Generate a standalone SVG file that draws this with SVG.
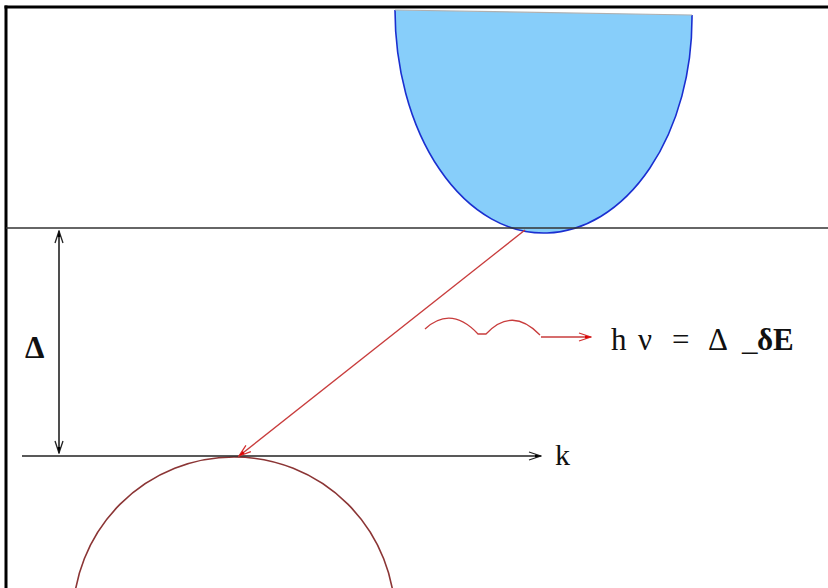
<svg xmlns="http://www.w3.org/2000/svg" width="828" height="588" viewBox="0 0 828 588">
<defs>
<style>
.frame{stroke:#000;stroke-width:3;fill:none}
.level{stroke:#333;stroke-width:1.6;fill:none}
.blk{stroke:#222;stroke-width:1.6;fill:none}
.red{stroke:#c83c3c;stroke-width:1.3;fill:none}
.lbl{font-family:"Liberation Serif","DejaVu Serif",serif;fill:#111}
</style>
<marker id="ahBlack" markerUnits="userSpaceOnUse" viewBox="0 0 14 10" refX="13" refY="5" markerWidth="14" markerHeight="10" orient="auto-start-reverse">
<path d="M1,1 L13,5 L1,9" fill="none" stroke="#222" stroke-width="1.3"/>
<path d="M7,3.5 L13,5 L7,6.5 Z" fill="#000"/>
</marker>
<marker id="ahRed" markerUnits="userSpaceOnUse" viewBox="0 0 14 10" refX="13" refY="5" markerWidth="14" markerHeight="10" orient="auto">
<path d="M1,1 L13,5 L1,9" fill="none" stroke="#d23030" stroke-width="1.3"/>
<path d="M7,3.5 L13,5 L7,6.5 Z" fill="#e00000"/>
</marker>
</defs>
<g id="frame">
<line class="frame" x1="4.5" y1="7" x2="828" y2="7"/>
<line class="frame" x1="6" y1="5.5" x2="6" y2="588"/>
</g>
<g id="conduction-band">
<path d="M395,10 L692,15 L692,18 A148.5,215 0 0 1 547,233 A148.5,223 0 0 1 395,10 Z" fill="#87cefa" stroke="none"/>
<path d="M395,10 A148.5,223 0 0 0 547,233 A148.5,215 0 0 0 692,18 L692,15" fill="none" stroke="#1a2fd0" stroke-width="1.6"/>
<line x1="395" y1="10" x2="692" y2="15" stroke="#b0b0b0" stroke-width="1.2"/>
</g>
<g id="level-top">
<line class="level" x1="6" y1="228" x2="828" y2="228"/>
</g>
<g id="valence-band">
<circle cx="234" cy="618" r="161" fill="none" stroke="#8b3535" stroke-width="1.6"/>
</g>
<g id="connectors">
<line class="blk" x1="59" y1="231" x2="59" y2="453" marker-start="url(#ahBlack)" marker-end="url(#ahBlack)"/>
<line class="blk" x1="22" y1="456" x2="541" y2="456" marker-end="url(#ahBlack)"/>
<line class="red" x1="525" y1="230" x2="239" y2="456" marker-end="url(#ahRed)"/>
<path class="red" d="M425,329 Q451,305 478,334 L486,334 Q512,306 540,335"/>
<line class="red" x1="541" y1="337" x2="591" y2="337" marker-end="url(#ahRed)"/>
</g>
<g id="labels">
<text class="lbl" x="25" y="358" font-size="31" font-weight="bold">Δ</text>
<text class="lbl" x="555" y="465" font-size="30">k</text>
<text class="lbl" x="611" y="350" font-size="31">h</text>
<text class="lbl" x="638" y="350" font-size="31">ν</text>
<text class="lbl" x="672" y="350" font-size="31">=</text>
<text class="lbl" x="708" y="350" font-size="31">Δ</text>
<text class="lbl" x="742" y="350" font-size="31">_</text>
<text class="lbl" x="757" y="350" font-size="31" font-weight="bold">δE</text>
</g>
</svg>
